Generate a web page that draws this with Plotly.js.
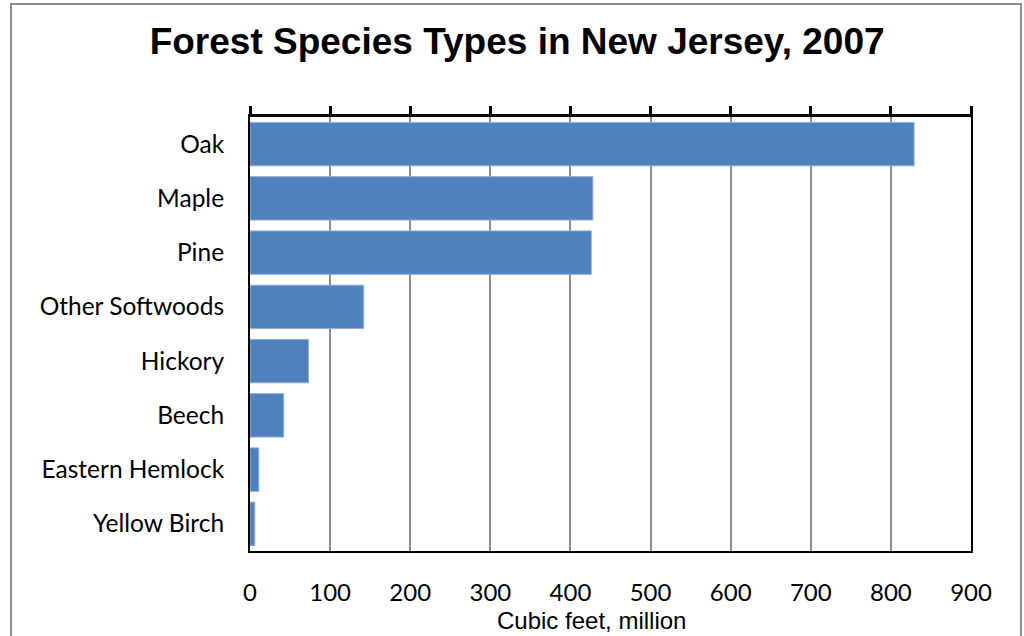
<!DOCTYPE html>
<html>
<head>
<meta charset="utf-8">
<script src="https://cdn.plot.ly/plotly-3.0.1.min.js"></script>
<style>html,body{margin:0;padding:0;background:#fff;}#chart{width:1024px;height:636px;}</style>
</head>
<body>
<div id="chart"></div>
<script>
const categories = ["Oak", "Maple", "Pine", "Other Softwoods", "Hickory", "Beech", "Eastern Hemlock", "Yellow Birch"];
const volumes = [829, 428, 426, 142, 73, 42, 11, 6];
const tickValues = [0, 100, 200, 300, 400, 500, 600, 700, 800, 900];
const tickLabels = ["0", "100", "200", "300", "400", "500", "600", "700", "800", "900"];

const bars = {
  type: 'bar',
  orientation: 'h',
  y: categories,
  x: volumes,
  marker: {color: '#4F81BD', line: {color: '#8FAEDB', width: 1}},
  width: 0.8,
  hoverinfo: 'x+y'
};
const topAxisTrace = {
  type: 'bar', orientation: 'h', y: categories, x: volumes,
  xaxis: 'x2', opacity: 0, hoverinfo: 'skip', showlegend: false
};

const layout = {
  width: 1024, height: 636,
  margin: {l: 250, r: 53, t: 117, b: 85},
  paper_bgcolor: '#ffffff', plot_bgcolor: '#ffffff',
  showlegend: false,
  title: {
    text: '<b>Forest Species Types in New Jersey, 2007</b>',
    font: {family: 'Liberation Sans, Arial, sans-serif', size: 37, color: '#000'},
    x: 0.505, xanchor: 'center', y: 0.935, yanchor: 'middle'
  },
  xaxis: {
    range: [0, 900], tickvals: tickValues, ticktext: tickLabels,
    showgrid: true, gridcolor: '#8c8c8c', gridwidth: 2,
    zeroline: false, showline: true, linecolor: '#000', linewidth: 2,
    ticks: '', ticklabelstandoff: 19,
    tickfont: {family: 'Lato, Carlito, sans-serif', size: 24, color: '#000'},
    fixedrange: true
  },
  xaxis2: {
    range: [0, 900], tickvals: tickValues, overlaying: 'x', side: 'top',
    matches: 'x',
    showgrid: false, zeroline: false, showline: true, linecolor: '#000', linewidth: 3,
    ticks: 'outside', ticklen: 8, tickwidth: 3, tickcolor: '#000',
    showticklabels: false, fixedrange: true
  },
  yaxis: {
    autorange: 'reversed', type: 'category',
    showline: true, linecolor: '#000', linewidth: 2, mirror: true,
    ticks: '', ticklabelstandoff: 19,
    tickfont: {family: 'Lato, Carlito, sans-serif', size: 24.5, color: '#000'},
    showgrid: false, zeroline: false, fixedrange: true
  },
  annotations: [{
    text: 'Cubic feet, million', xref: 'paper', yref: 'paper',
    x: 0.474, y: -0.161, xanchor: 'center', yanchor: 'middle', showarrow: false,
    font: {family: 'Liberation Sans, Arial, sans-serif', size: 24, color: '#000'}
  }],
  shapes: [{
    type: 'rect', xref: 'paper', yref: 'paper',
    x0: -0.3315, x1: 1.0693, y0: -0.25, y1: 1.2604,
    line: {color: '#8c8c8c', width: 2}, fillcolor: 'rgba(0,0,0,0)', layer: 'below'
  }]
};

Plotly.newPlot('chart', [bars, topAxisTrace], layout, {staticPlot: true, displayModeBar: false});
</script>
</body>
</html>
